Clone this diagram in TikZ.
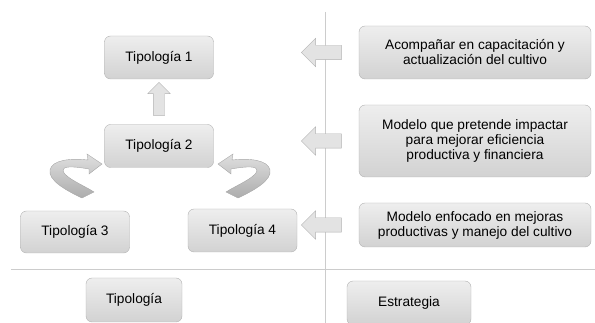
\documentclass[tikz,border=0pt]{standalone}
\usepackage{fontspec}
\setmainfont{Liberation Sans}
\usepackage{tikz}
\usetikzlibrary{shapes.arrows, positioning, calc}
\definecolor{boxtop}{RGB}{238, 238, 238}
\definecolor{boxbottom}{RGB}{210, 210, 210}
\definecolor{boxline}{RGB}{178, 178, 178}
\definecolor{rulegray}{RGB}{204, 204, 204}

\begin{document}
\begin{tikzpicture}[
    x=1pt, y=-1pt,
    font=\fontsize{13.7}{15}\selectfont,
    box/.style={rectangle, draw=boxline, rounded corners=6pt,
                top color=boxtop, bottom color=boxbottom,
                align=center, inner sep=2pt},
    tipobox/.style={box, minimum width=109pt, minimum height=43pt},
    stratbox/.style={box, minimum width=232pt},
    blockarrow/.style={single arrow, draw=boxline, fill=gray!22,
                       minimum height=40pt, inner sep=7pt,
                       single arrow head extend=7pt,
                       shape border rotate=180},
    turn/.style={draw=gray!70, top color=gray!25, bottom color=gray!65}
]
    \useasboundingbox (0,0) rectangle (595,323);

    % Dividing lines
    \coordinate (divtop) at (325,12);
    \coordinate (divbot) at (325,323);
    \coordinate (rulel) at (11,269);
    \coordinate (ruler) at (595,269);
    \draw[rulegray] (divtop) -- (divbot);
    \draw[rulegray] (rulel) -- (ruler);

    % Typology nodes
    \node[tipobox] (tipo1) at (159,57.5) {Tipología 1};
    \node[tipobox] (tipo2) at (159,146) {Tipología 2};
    \node[tipobox, minimum height=42pt] (tipo3) at (75,232) {Tipología 3};
    \node[tipobox] (tipo4) at (242.5,230.5) {Tipología 4};

    % Strategy nodes
    \node[stratbox, minimum height=53pt] (strat1) at (475,52.5)
        {Acompañar en capacitación y\\actualización del cultivo};
    \node[stratbox, minimum height=72pt] (strat2) at (475,141)
        {Modelo que pretende impactar\\para mejorar eficiencia\\productiva y financiera};
    \node[stratbox, minimum height=44pt] (strat3) at (475,225)
        {Modelo enfocado en mejoras\\productivas y manejo del cultivo};

    % Column labels
    \node[box, minimum width=96pt, minimum height=44pt] (labtipo) at (134,300) {Tipología};
    \node[box, minimum width=124pt, minimum height=44pt] (labestr) at (409,303) {Estrategia};

    % Block arrows
    \node[blockarrow] (arrone) at (divtop |- strat1) {};
    \node[blockarrow] (arrtwo) at (divtop |- strat2) {};
    \node[blockarrow] (arrthree) at (divtop |- strat3) {};
    \node[blockarrow, minimum height=33pt, inner sep=5.5pt,
          single arrow head extend=5.5pt, shape border rotate=90]
        (arrup) at ($(tipo1.south)!0.5!(tipo2.north)$) {};

    % Curved arrows
    \path[turn] (82,198) .. controls (65,190) and (48,180) .. (50,170)
        .. controls (52,160) and (70,158) .. (88,160) -- (87,154) -- (102,164)
        -- (89,174) -- (89,169) .. controls (72,166) and (62,166) .. (63,171)
        .. controls (65,178) and (85,186) .. (94,192) -- cycle;
    \begin{scope}[xshift=320pt, xscale=-1]
    \path[turn] (82,198) .. controls (65,190) and (48,180) .. (50,170)
        .. controls (52,160) and (70,158) .. (88,160) -- (87,154) -- (102,164)
        -- (89,174) -- (89,169) .. controls (72,166) and (62,166) .. (63,171)
        .. controls (65,178) and (85,186) .. (94,192) -- cycle;
    \end{scope}

\end{tikzpicture}
\end{document}
